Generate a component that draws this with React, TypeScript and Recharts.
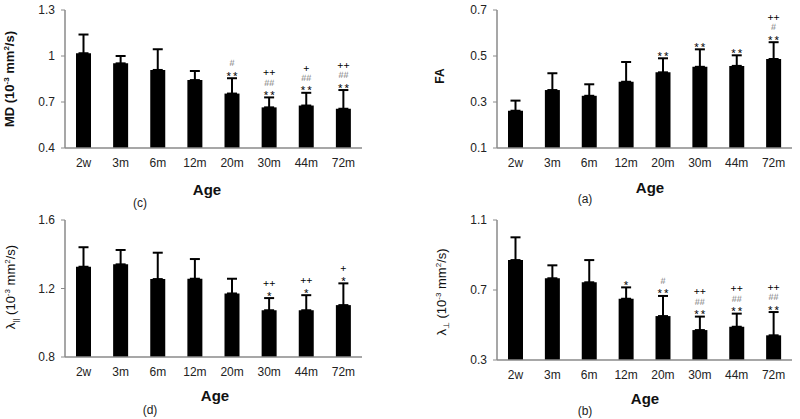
import React from 'react';
import { ComposedChart, Bar, Line, XAxis, YAxis, ErrorBar, LabelList } from 'recharts';

const ages = ['2w', '3m', '6m', '12m', '20m', '30m', '44m', '72m'];

// mean and SD (upper error only)
const mdMean = [1.018, 0.952, 0.909, 0.843, 0.755, 0.665, 0.677, 0.656];
const mdSd = [0.122, 0.048, 0.135, 0.059, 0.1, 0.065, 0.083, 0.122];
const mdMarks = [[], [], [], [], ['**', '#'], ['**', '##', '++'], ['**', '##', '+'], ['**', '##', '++']];

const faMean = [0.262, 0.352, 0.327, 0.388, 0.429, 0.453, 0.457, 0.487];
const faSd = [0.044, 0.073, 0.05, 0.086, 0.061, 0.076, 0.046, 0.073];
const faMarks = [[], [], [], [], ['**'], ['**'], ['**'], ['**', '#', '++']];

const axMean = [1.327, 1.341, 1.255, 1.257, 1.171, 1.073, 1.073, 1.103];
const axSd = [0.114, 0.084, 0.154, 0.115, 0.086, 0.071, 0.088, 0.127];
const axMarks = [[], [], [], [], [], ['*', '++'], ['*', '++'], ['*', '+']];

const rdMean = [0.871, 0.767, 0.744, 0.65, 0.551, 0.471, 0.49, 0.441];
const rdSd = [0.13, 0.074, 0.127, 0.065, 0.115, 0.077, 0.075, 0.133];
const rdMarks = [[], [], [], ['*'], ['**', '#'], ['**', '##', '++'], ['**', '##', '++'], ['**', '##', '++']];

const FONT = '"Liberation Sans", Arial, sans-serif';

const buildRows = (mean: number[], sd: number[]) =>
  ages.map((age, i) => ({ age, mean: mean[i], err: [0, sd[i]], top: mean[i] + sd[i] }));

const markRenderer = (marks: string[][]) => (props: any) => {
  const { x, y, index } = props;
  const list = marks[index] || [];
  return (
    <g textRendering="geometricPrecision">
      {list.map((m, k) => {
        const cy = y - 5 - 10 * k;
        if (m.startsWith('*')) {
          return (
            <text key={k} x={x + (m.length > 1 ? 1 : 0)} y={cy + 6.5} textAnchor="middle" fontSize={11.5}
              letterSpacing={m.length > 1 ? 2 : 0} fill="#000" fontFamily={FONT}>{m}</text>
          );
        }
        if (m.startsWith('#')) {
          return (
            <text key={k} x={x} y={cy + 3.2} textAnchor="middle" fontSize={9} fill="#777" fontFamily={FONT}>{m}</text>
          );
        }
        return (
          <text key={k} x={x} y={cy + 3.8} textAnchor="middle" fontSize={10.5} fill="#000" fontFamily={FONT}>{m}</text>
        );
      })}
    </g>
  );
};

interface PanelProps {
  left: number;
  top: number;
  height: number;
  yWidth: number;
  right: number;
  xHeight: number;
  domain: [number, number];
  ticks: number[];
  mean: number[];
  sd: number[];
  marks: string[][];
}

const Panel: React.FC<PanelProps> = ({ left, top, height, yWidth, right, xHeight, domain, ticks, mean, sd, marks }) => {
  const data = buildRows(mean, sd);
  return (
    <div style={{ position: 'absolute', left, top }}>
      <ComposedChart width={400} height={height} data={data} margin={{ top: 10, right, bottom: 0, left: 0 }}>
        <XAxis dataKey="age" height={xHeight} tickLine={false} tickSize={0} tickMargin={10}
          axisLine={{ stroke: '#8a8a8a', strokeWidth: 1.5 }}
          tick={{ fontSize: 12, fill: '#222', fontFamily: FONT }} />
        <YAxis type="number" domain={domain} ticks={ticks} width={yWidth} tickSize={4} tickMargin={6}
          axisLine={{ stroke: '#8a8a8a', strokeWidth: 1.5 }} tickLine={{ stroke: '#8a8a8a' }}
          tick={{ fontSize: 12, fill: '#222', fontFamily: FONT }} />
        <Bar dataKey="mean" fill="#000" barSize={15} isAnimationActive={false}>
          <ErrorBar dataKey="err" width={5} strokeWidth={2} stroke="#000" direction="y" />
        </Bar>
        <Line dataKey="top" stroke="none" dot={false} activeDot={false} isAnimationActive={false}>
          <LabelList dataKey="top" content={markRenderer(marks)} />
        </Line>
      </ComposedChart>
    </div>
  );
};

const Overlay: React.FC = () => (
  <svg width={800} height={419} style={{ position: 'absolute', left: 0, top: 0, pointerEvents: 'none' }}
    fontFamily={FONT}>
    {/* y labels */}
    <text transform="translate(14,79) rotate(-90)" textAnchor="middle" fontSize={13} fontWeight="bold" fill="#111">
      MD (10<tspan dy={-5} fontSize={8}>-3</tspan><tspan dy={5}> mm</tspan><tspan dy={-5} fontSize={8}>2</tspan><tspan dy={5}>/s)</tspan>
    </text>
    <text transform="translate(444,76) rotate(-90)" textAnchor="middle" fontSize={12} fontWeight="bold" fill="#111">
      FA
    </text>
    <text transform="translate(15,287) rotate(-90)" textAnchor="middle" fontSize={13} fill="#111">
      λ<tspan dy={3} fontSize={8}>||</tspan><tspan dy={-3}> (10</tspan><tspan dy={-5} fontSize={8}>-3</tspan><tspan dy={5}> mm</tspan><tspan dy={-5} fontSize={8}>2</tspan><tspan dy={5}>/s)</tspan>
    </text>
    <text transform="translate(446,292) rotate(-90)" textAnchor="middle" fontSize={13} fill="#111">
      λ<tspan dy={3} fontSize={8}>⊥</tspan><tspan dy={-3}> (10</tspan><tspan dy={-5} fontSize={8}>-3</tspan><tspan dy={5}> mm</tspan><tspan dy={-5} fontSize={8}>2</tspan><tspan dy={5}>/s)</tspan>
    </text>
    {/* x titles */}
    <text x={207} y={195} textAnchor="middle" fontSize={15} fontWeight="bold" fill="#111">Age</text>
    <text x={650} y={193} textAnchor="middle" fontSize={15} fontWeight="bold" fill="#111">Age</text>
    <text x={215} y={401} textAnchor="middle" fontSize={15} fontWeight="bold" fill="#111">Age</text>
    <text x={645} y={404} textAnchor="middle" fontSize={15} fontWeight="bold" fill="#111">Age</text>
    {/* panel letters */}
    <text x={140} y={207} textAnchor="middle" fontSize={12} fill="#222">(c)</text>
    <text x={585} y={203} textAnchor="middle" fontSize={12} fill="#222">(a)</text>
    <text x={150} y={414} textAnchor="middle" fontSize={12} fill="#222">(d)</text>
    <text x={585} y={415} textAnchor="middle" fontSize={12} fill="#222">(b)</text>
  </svg>
);

export default function App() {
  return (
    <div style={{ position: 'absolute', left: 0, top: 0, width: 800, height: 419, background: '#fff', fontFamily: FONT }}>
      <Panel left={0} top={0} height={210} yWidth={65} right={38} xHeight={62}
        domain={[0.4, 1.3]} ticks={[0.4, 0.7, 1, 1.3]} mean={mdMean} sd={mdSd} marks={mdMarks} />
      <Panel left={400} top={0} height={210} yWidth={97} right={8} xHeight={62}
        domain={[0.1, 0.7]} ticks={[0.1, 0.3, 0.5, 0.7]} mean={faMean} sd={faSd} marks={faMarks} />
      <Panel left={0} top={210} height={209} yWidth={65} right={38} xHeight={62}
        domain={[0.8, 1.6]} ticks={[0.8, 1.2, 1.6]} mean={axMean} sd={axSd} marks={axMarks} />
      <Panel left={400} top={210} height={209} yWidth={97} right={8} xHeight={59}
        domain={[0.3, 1.1]} ticks={[0.3, 0.7, 1.1]} mean={rdMean} sd={rdSd} marks={rdMarks} />
      <Overlay />
    </div>
  );
}
